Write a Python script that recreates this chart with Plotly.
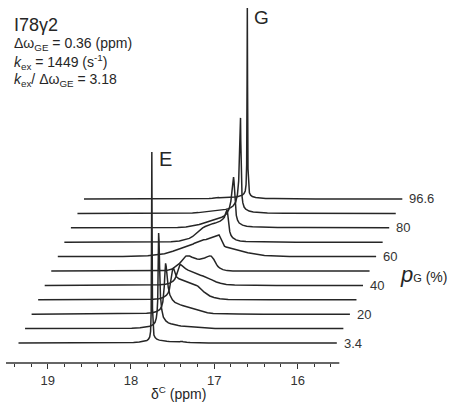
import plotly.graph_objects as go

# chemical-shift grid (ppm) shared by all spectra
PPM = [19.35, 18.57, 18.27, 18.07, 17.97, 17.90, 17.85, 17.81, 17.79, 17.775,
       17.765, 17.758, 17.753, 17.75, 17.747, 17.742, 17.735, 17.725, 17.71, 17.69,
       17.66, 17.63, 17.60, 17.57, 17.54, 17.51, 17.48, 17.45, 17.43, 17.415,
       17.405, 17.398, 17.393, 17.39, 17.387, 17.382, 17.375, 17.365, 17.35, 17.33,
       17.29, 17.24, 17.17, 17.07, 16.87, 16.57, 15.53]

# intensities (normalised) for each G population
I_3_4 = [0, 0, 0.001, 0.002, 0.003, 0.005, 0.008, 0.013, 0.02, 0.032,
         0.06, 0.16, 0.6, 1.0, 0.62, 0.18, 0.075, 0.042, 0.028, 0.02,
         0.015, 0.012, 0.01, 0.009, 0.008, 0.007, 0.007, 0.007, 0.007, 0.007,
         0.008, 0.009, 0.01, 0.01, 0.009, 0.008, 0.007, 0.006, 0.005, 0.004,
         0.003, 0.002, 0.001, 0, 0, 0, 0]
I_10 = [0, 0, 0.001, 0.002, 0.004, 0.007, 0.012, 0.022, 0.033, 0.055,
        0.09, 0.15, 0.26, 0.38, 0.50, 0.46, 0.32, 0.17, 0.10, 0.06,
        0.04, 0.03, 0.025, 0.021, 0.018, 0.016, 0.014, 0.013, 0.012, 0.012,
        0.012, 0.012, 0.012, 0.012, 0.012, 0.012, 0.011, 0.01, 0.009, 0.008,
        0.006, 0.004, 0.002, 0.001, 0, 0, 0]
I_20 = [0, 0.001, 0.002, 0.003, 0.005, 0.008, 0.014, 0.025, 0.04, 0.065,
        0.10, 0.145, 0.19, 0.22, 0.245, 0.266, 0.25, 0.20, 0.14, 0.10,
        0.075, 0.062, 0.055, 0.05, 0.046, 0.042, 0.038, 0.034, 0.031, 0.029,
        0.028, 0.027, 0.026, 0.026, 0.025, 0.025, 0.024, 0.022, 0.02, 0.017,
        0.012, 0.008, 0.004, 0.002, 0.001, 0, 0]
I_30 = [0, 0, 0.001, 0.002, 0.003, 0.006, 0.012, 0.024, 0.036, 0.055,
        0.08, 0.105, 0.125, 0.135, 0.145, 0.155, 0.163, 0.165, 0.14, 0.12,
        0.11, 0.105, 0.1, 0.097, 0.093, 0.088, 0.082, 0.075, 0.07, 0.065,
        0.06, 0.057, 0.055, 0.054, 0.052, 0.05, 0.047, 0.043, 0.038, 0.03,
        0.02, 0.012, 0.006, 0.002, 0, 0, 0]
I_40 = [0, 0, 0, 0.001, 0.003, 0.006, 0.012, 0.022, 0.032, 0.046,
        0.06, 0.07, 0.078, 0.083, 0.088, 0.095, 0.104, 0.11, 0.106, 0.098,
        0.088, 0.08, 0.074, 0.068, 0.063, 0.058, 0.053, 0.049, 0.046, 0.044,
        0.042, 0.041, 0.04, 0.039, 0.038, 0.037, 0.035, 0.033, 0.03, 0.025,
        0.018, 0.011, 0.005, 0.002, 0, 0, 0]
I_50 = [0, 0, 0, 0, 0.002, 0.01, 0.025, 0.04, 0.05, 0.058,
        0.064, 0.068, 0.071, 0.073, 0.075, 0.077, 0.078, 0.079, 0.079, 0.078,
        0.072, 0.066, 0.063, 0.062, 0.064, 0.068, 0.074, 0.079, 0.078, 0.072,
        0.065, 0.06, 0.056, 0.053, 0.05, 0.046, 0.04, 0.033, 0.024, 0.016,
        0.007, 0.002, 0, 0, 0, 0, 0]
I_60 = [0, 0, 0.005, 0.015, 0.028, 0.038, 0.045, 0.05, 0.053, 0.055,
        0.057, 0.058, 0.059, 0.06, 0.061, 0.062, 0.064, 0.066, 0.07, 0.074,
        0.08, 0.085, 0.088, 0.09, 0.094, 0.098, 0.102, 0.107, 0.112, 0.113,
        0.105, 0.098, 0.092, 0.088, 0.084, 0.078, 0.07, 0.062, 0.055, 0.05,
        0.045, 0.04, 0.032, 0.02, 0.006, 0, 0]
I_70 = [0, 0, 0, 0.002, 0.006, 0.012, 0.02, 0.03, 0.038, 0.043,
        0.047, 0.05, 0.052, 0.054, 0.055, 0.057, 0.06, 0.065, 0.07, 0.075,
        0.082, 0.088, 0.093, 0.097, 0.1, 0.105, 0.11, 0.12, 0.13, 0.15,
        0.165, 0.17, 0.16, 0.145, 0.13, 0.105, 0.08, 0.055, 0.036, 0.024,
        0.012, 0.006, 0.003, 0.002, 0.001, 0, 0]
I_80 = [0, 0, 0.001, 0.002, 0.004, 0.008, 0.012, 0.017, 0.02, 0.022,
        0.024, 0.025, 0.025, 0.026, 0.026, 0.027, 0.028, 0.029, 0.031, 0.034,
        0.038, 0.042, 0.046, 0.05, 0.055, 0.062, 0.075, 0.10, 0.14, 0.20,
        0.25, 0.266, 0.245, 0.22, 0.19, 0.145, 0.10, 0.065, 0.04, 0.025,
        0.014, 0.008, 0.005, 0.003, 0.002, 0.001, 0]
I_90 = [0, 0, 0, 0.001, 0.002, 0.004, 0.006, 0.008, 0.009, 0.01,
        0.011, 0.012, 0.012, 0.012, 0.012, 0.012, 0.012, 0.012, 0.012, 0.013,
        0.014, 0.016, 0.018, 0.021, 0.025, 0.03, 0.04, 0.06, 0.10, 0.17,
        0.32, 0.46, 0.50, 0.38, 0.26, 0.15, 0.09, 0.055, 0.033, 0.022,
        0.012, 0.007, 0.004, 0.002, 0.001, 0, 0]
I_96_6 = [0, 0, 0, 0, 0.001, 0.002, 0.003, 0.004, 0.005, 0.006,
          0.007, 0.008, 0.009, 0.01, 0.01, 0.009, 0.008, 0.007, 0.007, 0.007,
          0.007, 0.007, 0.008, 0.009, 0.01, 0.012, 0.015, 0.02, 0.028, 0.042,
          0.075, 0.18, 0.62, 1.0, 0.6, 0.16, 0.06, 0.032, 0.02, 0.013,
          0.008, 0.005, 0.003, 0.002, 0.001, 0, 0]

SPECTRA = [I_3_4, I_10, I_20, I_30, I_40, I_50, I_60, I_70, I_80, I_90, I_96_6]
PG_LABELS = ["3.4", "", "20", "", "40", "", "60", "", "80", "", "96.6"]

X_TICKS = [19, 18, 17, 16]
X_MINOR = [19.4, 19.2, 18.8, 18.6, 18.4, 18.2, 17.8, 17.6, 17.4, 17.2,
           16.8, 16.6, 16.4, 16.2, 15.8, 15.6]

# stacking skew (style)
X_STEP = 0.0786
Y_STEP = 0.0754

FONT = "Liberation Sans, Arial, sans-serif"
INK = "#262626"

fig = go.Figure()
for k, spec in enumerate(SPECTRA):
    assert len(spec) == len(PPM)
    fig.add_trace(go.Scatter(
        x=[p - k * X_STEP for p in PPM],
        y=[v + k * Y_STEP for v in spec],
        mode="lines",
        line=dict(color=INK, width=1.5),
        hoverinfo="skip",
        showlegend=False,
    ))

annotations = []
for k, lab in enumerate(PG_LABELS):
    if lab:
        annotations.append(dict(
            x=PPM[-1] - k * X_STEP - 0.06, y=k * Y_STEP, xref="x", yref="y",
            text=lab, showarrow=False, xanchor="left", yanchor="middle",
            font=dict(family=FONT, size=13, color="#333333")))

W_PLOT = 443.0
H_PLOT = 363.0


def px(xp, yp):
    return (xp - 6) / W_PLOT, (H_PLOT - yp) / H_PLOT


def add_text(xp, yp, text, size, xanchor="left"):
    x, y = px(xp, yp)
    annotations.append(dict(x=x, y=y, xref="paper", yref="paper", text=text,
                            showarrow=False, xanchor=xanchor, yanchor="middle",
                            font=dict(family=FONT, size=size, color=INK)))


add_text(12, 25, "I78γ2", 18)
add_text(12, 44, "Δω<sub>GE</sub> = 0.36 (ppm)", 14)
add_text(12, 62, "<i>k</i><sub>ex</sub> = 1449 (s<sup>-1</sup>)", 14)
add_text(12, 80, "<i>k</i><sub>ex</sub>/ Δω<sub>GE</sub> = 3.18", 14)
add_text(165, 159, "E", 20, "center")
add_text(261, 17, "G", 19, "center")
add_text(398, 274, "<span style='font-size:22px'><i>p</i></span>"
                   "<span style='font-size:11px'>G</span> (%)", 14)
add_text(178, 393, "δ<sup>C</sup> (ppm)", 14, "center")

fig.update_layout(
    width=449, height=407,
    margin=dict(l=6, r=0, t=0, b=44),
    paper_bgcolor="white", plot_bgcolor="white",
    xaxis=dict(range=[19.5, 19.5 - W_PLOT / 83.33], showline=False,
               showgrid=False, zeroline=False, tickmode="array",
               tickvals=X_TICKS, ticktext=[str(t) for t in X_TICKS],
               ticks="outside", ticklen=5, tickwidth=1.2, tickcolor="#333333",
               tickfont=dict(family=FONT, size=13, color="#333333"),
               minor=dict(tickmode="array", tickvals=X_MINOR, ticks="outside",
                          ticklen=3, tickwidth=1, tickcolor="#333333")),
    yaxis=dict(range=[-20 / 191, 343 / 191], visible=False),
    shapes=[dict(type="line", xref="x", yref="paper", x0=19.5, x1=15.5,
                 y0=0, y1=0, line=dict(color="#333333", width=1.3))],
    annotations=annotations,
)

fig.write_html("out.html", config={"displayModeBar": False},
               post_script="document.body.style.margin='0';"
                           "document.body.style.overflow='hidden';")
